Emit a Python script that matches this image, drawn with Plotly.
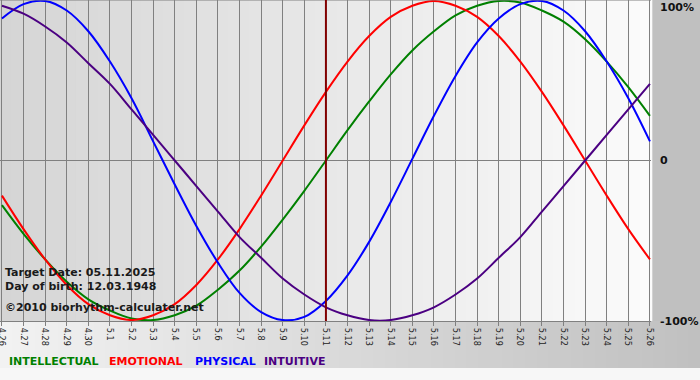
import plotly.graph_objects as go

days = ["4.26", "4.27", "4.28", "4.29", "4.30", "5.1", "5.2", "5.3", "5.4", "5.5",
        "5.6", "5.7", "5.8", "5.9", "5.10", "5.11", "5.12", "5.13", "5.14", "5.15",
        "5.16", "5.17", "5.18", "5.19", "5.20", "5.21", "5.22", "5.23", "5.24", "5.25", "5.26"]

intellectual = [-28, -46, -62, -76, -87, -94, -99, -100, -97, -91, -81, -69, -54, -37, -19,
                0, 19, 37, 54, 69, 81, 91, 97, 100, 99, 94, 87, 76, 62, 46, 28]
emotional = [-22, -43, -62, -78, -90, -97, -100, -97, -90, -78, -62, -43, -22, 0, 22,
             43, 62, 78, 90, 97, 100, 97, 90, 78, 62, 43, 22, 0, -22, -43, -62]
physical = [89, 98, 100, 94, 81, 62, 39, 12, -15, -41, -64, -83, -95, -100, -98,
            -88, -72, -51, -26, 1, 28, 53, 74, 89, 98, 100, 94, 81, 62, 39, 12]
intuitive = [97, 92, 84, 74, 61, 48, 32, 16, 0, -16, -32, -48, -61, -74, -84,
             -92, -97, -100, -100, -97, -92, -84, -74, -61, -48, -32, -16, 0, 16, 32, 48]

target_day = "5.11"
series = [
    ("INTELLECTUAL", intellectual, "#008000"),
    ("EMOTIONAL", emotional, "#ff0000"),
    ("PHYSICAL", physical, "#0000ff"),
    ("INTUITIVE", intuitive, "#4b0082"),
]

W, H = 700, 380
ML, MR, MT, MB = 0, 49, 0, 59
PW, PH = W - ML - MR, H - MT - MB

def px(xp):
    return (xp - ML) / PW

def py(yp):
    return (H - MB - yp) / PH

fig = go.Figure()
for name, vals, col in series:
    fig.add_trace(go.Scatter(x=days, y=vals, mode="lines", name=name,
                             line=dict(color=col, width=2, shape="spline", smoothing=1.0),
                             hoverinfo="skip"))

shapes = []
N = 60
for i in range(N):
    t = (i + 0.5) / N
    c = int(round(213 + (251 - 213) * t))
    shapes.append(dict(type="rect", xref="paper", yref="paper", x0=i / N, x1=(i + 1) / N + 0.002,
                       y0=0, y1=1, fillcolor=f"rgb({c},{c},{c})", line=dict(width=0), layer="below"))
for i in range(N):
    t = (i + 0.5) / N
    c = int(round(242 + (192 - 242) * t))
    x0 = px(W * i / N)
    x1 = px(W * (i + 1) / N) + 0.002
    shapes.append(dict(type="rect", xref="paper", yref="paper", x0=x0, x1=x1,
                       y0=py(368), y1=0, fillcolor=f"rgb({c},{c},{c})", line=dict(width=0), layer="below"))
shapes.append(dict(type="rect", xref="paper", yref="paper", x0=px(0), x1=px(W),
                   y0=py(H), y1=py(368), fillcolor="#f7f7f7", line=dict(width=0), layer="below"))
shapes.append(dict(type="line", xref="paper", yref="paper", x0=0, x1=1, y0=1, y1=1,
                   line=dict(color="#808080", width=1)))
ti = days.index(target_day)
shapes.append(dict(type="line", xref="x", yref="paper", x0=ti, x1=ti, y0=0, y1=1,
                   line=dict(color="#800000", width=2), layer="above"))

ann = []
info_font = dict(family="DejaVu Sans, Verdana, sans-serif", size=11, color="#1a1a1a")
for txt, yp in [("<b>Target Date: 05.11.2025</b>", 272), ("<b>Day of birth: 12.03.1948</b>", 286),
                ("<b>©2010 biorhythm-calculater.net</b>", 307)]:
    ann.append(dict(text=txt, xref="paper", yref="paper", x=px(3), y=py(yp), xanchor="left",
                    yanchor="middle", showarrow=False, font=info_font))
for (name, vals, col), xp in zip(series, [7, 107, 193, 262]):
    ann.append(dict(text=f"<b>{name}</b>", xref="paper", yref="paper", x=px(xp), y=py(361),
                    xanchor="left", yanchor="middle", showarrow=False,
                    font=dict(family="DejaVu Sans, Verdana, sans-serif", size=11, color=col)))
for txt, yp in [("100%", 7), ("0", 161), ("-100%", 322)]:
    ann.append(dict(text=f"<b>{txt}</b>", xref="paper", yref="paper", x=px(658), y=py(yp),
                    xanchor="left", yanchor="middle", showarrow=False,
                    font=dict(family="DejaVu Sans, Verdana, sans-serif", size=11, color="#111")))

fig.update_layout(
    width=W, height=H, margin=dict(l=ML, r=MR, t=MT, b=MB, pad=0, autoexpand=False),
    paper_bgcolor="#c0c0c0", plot_bgcolor="rgba(0,0,0,0)",
    showlegend=False, shapes=shapes, annotations=ann,
    xaxis=dict(type="category", range=[-0.09, 30.05], showgrid=True, gridcolor="#808080", gridwidth=1,
               tickangle=90, ticks="outside", ticklen=4, tickcolor="#808080", automargin=False,
               tickfont=dict(family="DejaVu Sans Condensed, Liberation Sans, sans-serif", size=9, color="#222"),
               showline=True, linecolor="#808080", linewidth=1, zeroline=False, fixedrange=True),
    yaxis=dict(range=[-100.6, 100.6], showgrid=False, zeroline=True, zerolinecolor="#808080",
               zerolinewidth=1, showticklabels=False, fixedrange=True, automargin=False),
)

fig.write_html("out.html", config={"displayModeBar": False},
               post_script="document.body.style.margin='0';document.body.style.overflow='hidden';")
